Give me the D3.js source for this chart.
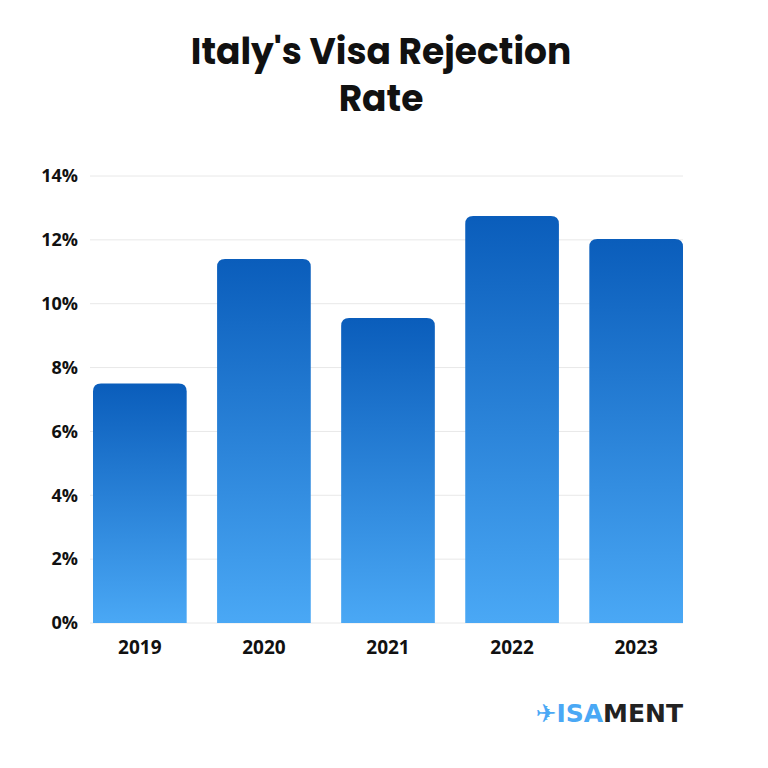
<!DOCTYPE html>
<html><head><meta charset="utf-8">
<script src="https://cdn.jsdelivr.net/npm/d3@7"></script>
<style>body{margin:0;background:#fff}</style>
</head><body>
<svg id="c" width="768" height="768"></svg>
<script>
const categories = ["2019","2020","2021","2022","2023"];
const values = [7.5, 11.4, 9.55, 12.75, 12.03];
const yTicks = [0,2,4,6,8,10,12,14];

const svg = d3.select("#c");
const font = "'Open Sans', sans-serif";
const x = d3.scaleBand().domain(categories).range([93, 683]).paddingInner(0.245).paddingOuter(0);
const y = d3.scaleLinear().domain([0,14]).range([623,176]);

const defs = svg.append("defs");
const g = defs.append("linearGradient").attr("id","bg").attr("x1",0).attr("y1",0).attr("x2",0).attr("y2",1);
g.append("stop").attr("offset","0%").attr("stop-color","#0a5dbb");
g.append("stop").attr("offset","100%").attr("stop-color","#4aa8f5");

["Italy's Visa Rejection","Rate"].forEach((t,i)=>svg.append("text").attr("x",381).attr("y",64+47*i).attr("text-anchor","middle")
  .attr("font-family","Poppins, 'Open Sans', sans-serif").attr("font-weight",700).attr("font-size",36)
  .attr("fill","#111").text(t));

svg.append("g").selectAll("line").data(yTicks).join("line")
  .attr("x1",90).attr("x2",683).attr("y1",d=>y(d)).attr("y2",d=>y(d))
  .attr("stroke","#e8e8e8").attr("stroke-width",1);

svg.append("g").selectAll("text").data(yTicks).join("text")
  .attr("x",78).attr("y",d=>y(d)).attr("dy","0.35em").attr("text-anchor","end")
  .attr("font-family",font).attr("font-weight",700).attr("font-size",18).attr("fill","#111")
  .text(d=>d+"%");

const r = 8;
svg.append("g").selectAll("path").data(categories).join("path")
  .attr("fill","url(#bg)")
  .attr("d",(c,i)=>{
    const x0=x(c), w=x.bandwidth(), y0=y(values[i]), y1=y(0);
    return `M${x0},${y1}V${y0+r}Q${x0},${y0} ${x0+r},${y0}H${x0+w-r}Q${x0+w},${y0} ${x0+w},${y0+r}V${y1}Z`;
  });

svg.append("g").selectAll("text").data(categories).join("text")
  .attr("x",c=>x(c)+x.bandwidth()/2).attr("y",654).attr("text-anchor","middle")
  .attr("font-family",font).attr("font-weight",700).attr("font-size",19).attr("fill","#111")
  .text(c=>c);

const logo = svg.append("text").attr("x",683).attr("y",722).attr("text-anchor","end")
  .attr("font-family","'DejaVu Sans', sans-serif").attr("font-weight",700).attr("font-size",25);
logo.append("tspan").attr("fill","#4aa8f5").text("✈ISA");
logo.append("tspan").attr("fill","#222").text("MENT");
</script>
</body></html>
